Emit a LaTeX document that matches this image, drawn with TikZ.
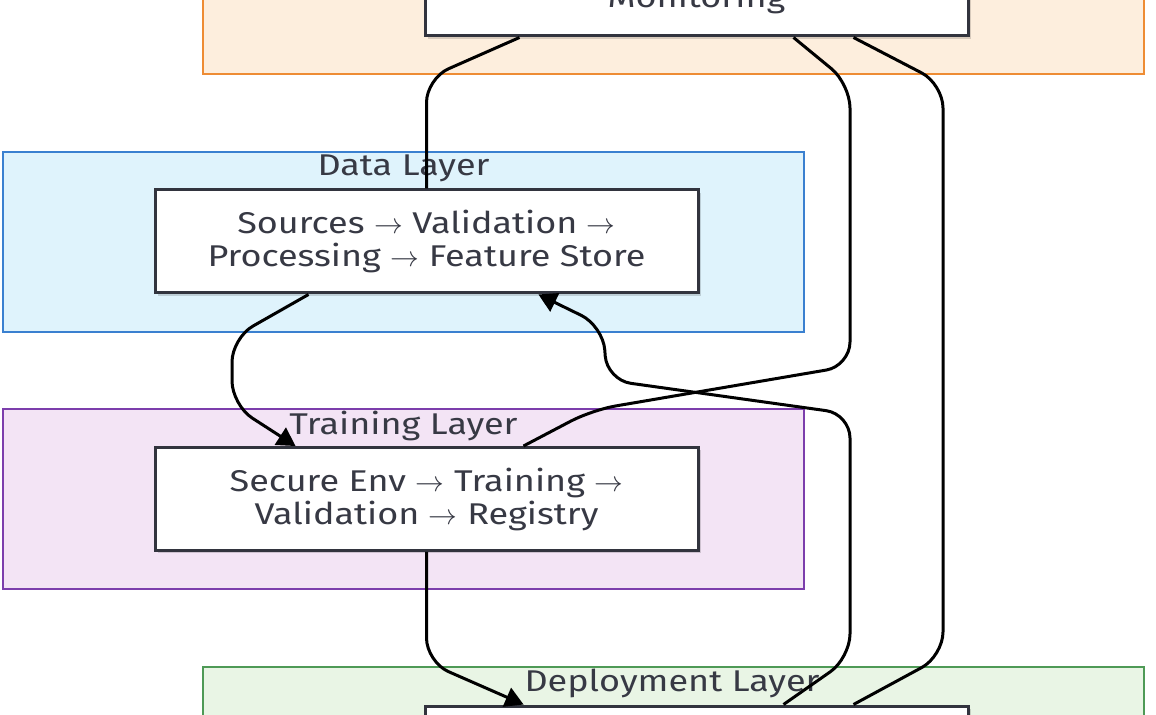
\documentclass[tikz,border=0pt]{standalone}
\usepackage{fontspec}
\setmainfont[FakeStretch=1.2]{Fira Sans}
\usepackage{tikz}
\usetikzlibrary{shapes}
\usetikzlibrary{arrows}
\usetikzlibrary{calc}
\usetikzlibrary{shadows}
\definecolor{monfill}{RGB}{253,238,221}
\definecolor{monline}{RGB}{238,140,52}
\definecolor{datafill}{RGB}{223,243,252}
\definecolor{dataline}{RGB}{58,128,208}
\definecolor{trainfill}{RGB}{243,228,245}
\definecolor{trainline}{RGB}{124,62,172}
\definecolor{depfill}{RGB}{233,245,229}
\definecolor{depline}{RGB}{78,154,86}
\definecolor{boxline}{RGB}{50,52,62}
\definecolor{txtgray}{RGB}{55,57,68}
\newcommand{\flowto}{\ensuremath{\rightarrow}}
\tikzset{
  layer/.style = {rectangle, inner sep=0pt, line width=1.2pt,
    minimum height=90pt},% sous-graphe
  mon_layer/.style = {layer, draw=monline, fill=monfill, minimum width=470.5pt},
  data_layer/.style = {layer, draw=dataline, fill=datafill, minimum width=400.5pt},
  train_layer/.style = {layer, draw=trainline, fill=trainfill, minimum width=400.5pt},
  dep_layer/.style = {layer, draw=depline, fill=depfill, minimum width=470.5pt},
  stage/.style = {rectangle, draw=boxline, fill=white, line width=1.5pt,
    minimum width=271.5pt, minimum height=51.5pt, align=center,
    text=txtgray, font=\fontsize{15}{16.5}\selectfont,
    drop shadow={shadow xshift=1.5pt, shadow yshift=-1.5pt,
      opacity=0.15, fill=black}},% etape
  layer_title/.style = {text=txtgray, inner sep=0pt,
    font=\fontsize{15}{16.5}\selectfont},
  flow/.style = {draw=black, line width=1.5pt, rounded corners=12pt}
}
\begin{document}
\begin{tikzpicture}[x=0.5pt, y=-0.5pt, >=triangle 60]
  \useasboundingbox (0,0) rectangle (1156,715);
  \clip (0,0) rectangle (1156,715);
  % couches
  \node [mon_layer] (monL) at (673.5,-16) {};
  \node [data_layer] (dataL) at (403.5,242) {};
  \node [train_layer] (trainL) at (403.5,499) {};
  \node [dep_layer] (depL) at (673.5,757) {};
  \node [layer_title] (dataT) at (403.5,168) {Data Layer};
  \node [layer_title] (trainT) at (403.5,426) {Training Layer};
  \node [layer_title] (depT) at (672,683) {Deployment Layer};
  % etapes
  \node [stage] (monB) at (696.5,-15.5) {};
  \node [layer_title, anchor=base] (monX) at (696.5,8) {Monitoring};
  \node [stage] (dataB) at (426.5,241.5)
    {Sources \flowto{} Validation \flowto\\
     Processing \flowto{} Feature Store};
  \node [stage] (trainB) at (426.5,499)
    {Secure Env \flowto{} Training \flowto\\
     Validation \flowto{} Registry};
  \node [stage] (depB) at (696.5,757.5) {};
  % liens
  \draw [flow] ($(monB.south west)+(96,0)$) -- ($(dataB.north)+(0,-110)$)
    -- (dataB.north);
  \draw [flow, ->] ($(dataB.south west)+(155,0)$) -- (232,338) -- (232,405)
    -- ($(trainB.north west)+(142,0)$);
  \draw [flow, ->] (trainB.south) -- ($(trainB.south)+(0,110)$)
    -- ($(depB.north west)+(100,0)$);
  \draw [flow, ->] ($(depB.north west)+(360,0)$) -- (850,658) -- (850,414)
    -- (607,380) -- (603,326) -- ($(dataB.south west)+(385,0)$);
  \draw [flow] ($(trainB.north west)+(370,0)$) -- (592,410) -- (850,366)
    -- (850,84) -- ($(monB.south west)+(370,0)$);
  \draw [flow] ($(depB.north west)+(430,0)$) -- (943,656) -- (943,84)
    -- ($(monB.south west)+(430,0)$);
\end{tikzpicture}
\end{document}
